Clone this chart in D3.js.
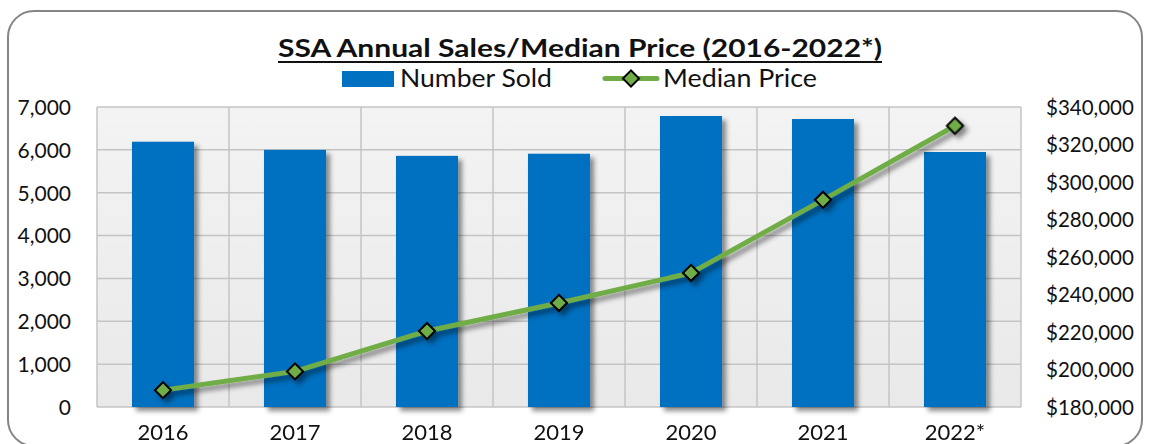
<!DOCTYPE html>
<html>
<head>
<meta charset="utf-8">
<script src="https://cdn.jsdelivr.net/npm/d3@7"></script>
<style>
  body { margin: 0; background: #fff; }
  text { font-family: Lato, "Open Sans", sans-serif; fill: #111; }
</style>
</head>
<body>
<script>
// chart data
var years = ["2016", "2017", "2018", "2019", "2020", "2021", "2022*"];
var numberSold = [6190, 6000, 5860, 5910, 6790, 6720, 5950];
var medianPrice = [189000, 199000, 220500, 235500, 251500, 290500, 330000];
var leftTicks = [0, 1000, 2000, 3000, 4000, 5000, 6000, 7000];
var rightTicks = [180000, 200000, 220000, 240000, 260000, 280000, 300000, 320000, 340000];

var width = 1150;
var height = 444;
var plot = { left: 97, right: 1021, top: 107, bottom: 407 };

var svg = d3.select("body")
  .append("svg")
  .attr("width", width)
  .attr("height", height);

var defs = svg.append("defs");
var shadow = defs.append("filter")
  .attr("id", "shadow")
  .attr("x", "-20%").attr("y", "-20%")
  .attr("width", "150%").attr("height", "150%");
shadow.append("feDropShadow")
  .attr("dx", 4).attr("dy", 4)
  .attr("stdDeviation", 2.5)
  .attr("flood-color", "#000")
  .attr("flood-opacity", 0.45);

var bg = defs.append("linearGradient")
  .attr("id", "bg")
  .attr("x1", 0).attr("y1", 0).attr("x2", 0).attr("y2", 1);
bg.append("stop").attr("offset", "0%").attr("stop-color", "#f3f3f3");
bg.append("stop").attr("offset", "100%").attr("stop-color", "#e9e9e9");

// outer frame
svg.append("rect")
  .attr("x", 8).attr("y", 11)
  .attr("width", 1134).attr("height", 435)
  .attr("rx", 26)
  .style("fill", "#fff")
  .style("stroke", "#858585")
  .style("stroke-width", 2);

// scales
var x = d3.scaleBand()
  .domain(years)
  .range([plot.left, plot.right]);

var yLeft = d3.scaleLinear()
  .domain([0, 7000])
  .range([plot.bottom, plot.top]);

var yRight = d3.scaleLinear()
  .domain([180000, 340000])
  .range([plot.bottom, plot.top]);

// plot background
svg.append("rect")
  .attr("x", plot.left).attr("y", plot.top)
  .attr("width", plot.right - plot.left)
  .attr("height", plot.bottom - plot.top)
  .style("fill", "url(#bg)");

// gridlines
svg.append("g")
  .selectAll("line")
  .data(leftTicks)
  .enter()
  .append("line")
  .attr("x1", plot.left).attr("x2", plot.right)
  .attr("y1", function(d) { return yLeft(d); })
  .attr("y2", function(d) { return yLeft(d); })
  .style("stroke", "#c4c4c4")
  .style("stroke-width", 1.5);

var bounds = years.map(function(d) { return x(d); }).concat([plot.right]);
svg.append("g")
  .selectAll("line")
  .data(bounds)
  .enter()
  .append("line")
  .attr("x1", function(d) { return d; })
  .attr("x2", function(d) { return d; })
  .attr("y1", plot.top).attr("y2", plot.bottom)
  .style("stroke", "#c4c4c4")
  .style("stroke-width", 1.5);

// bars
var barW = x.bandwidth() * 0.47;
svg.append("g")
  .attr("filter", "url(#shadow)")
  .selectAll("rect")
  .data(numberSold)
  .enter()
  .append("rect")
  .attr("x", function(d, i) { return x(years[i]) + (x.bandwidth() - barW) / 2; })
  .attr("y", function(d) { return yLeft(d); })
  .attr("width", barW)
  .attr("height", function(d) { return plot.bottom - yLeft(d); })
  .style("fill", "#0070c0");

// median price line
var line = d3.line()
  .x(function(d, i) { return x(years[i]) + x.bandwidth() / 2; })
  .y(function(d) { return yRight(d); });

var lineG = svg.append("g").attr("filter", "url(#shadow)");
lineG.append("path")
  .datum(medianPrice)
  .attr("d", line)
  .style("fill", "none")
  .style("stroke", "#70ad47")
  .style("stroke-width", 5)
  .style("stroke-linejoin", "round");

var diamond = d3.symbol().type(d3.symbolSquare).size(130);
lineG.selectAll(".marker")
  .data(medianPrice)
  .enter()
  .append("path")
  .attr("class", "marker")
  .attr("d", diamond)
  .attr("transform", function(d, i) {
    return "translate(" + (x(years[i]) + x.bandwidth() / 2) + "," + yRight(d) + ") rotate(45)";
  })
  .style("fill", "#70ad47")
  .style("stroke", "#000")
  .style("stroke-width", 2);

// axes
var leftAxis = svg.append("g")
  .attr("transform", "translate(" + (plot.left - 23) + ",0)")
  .call(d3.axisLeft(yLeft).tickValues(leftTicks).tickSize(0).tickFormat(d3.format(",")));
leftAxis.select(".domain").remove();
leftAxis.selectAll("text")
  .attr("dy", "0.35em")
  .style("font-family", "Lato, sans-serif")
  .style("font-size", "21px")
  .style("fill", "#111");

var rightAxis = svg.append("g")
  .attr("transform", "translate(" + (plot.right + 22) + ",0)")
  .call(d3.axisRight(yRight).tickValues(rightTicks).tickSize(0).tickFormat(function(d) { return "$" + d3.format(",")(d); }));
rightAxis.select(".domain").remove();
rightAxis.selectAll("text")
  .attr("dy", "0.35em")
  .style("font-family", "Lato, sans-serif")
  .style("font-size", "20.5px")
  .style("fill", "#111");

var bottomAxis = svg.append("g")
  .attr("transform", "translate(0," + plot.bottom + ")")
  .call(d3.axisBottom(x).tickSize(0));
bottomAxis.select(".domain").remove();
bottomAxis.selectAll("text")
  .attr("y", 33)
  .attr("dy", 0)
  .style("font-family", "Lato, sans-serif")
  .style("font-size", "22px")
  .style("fill", "#111");

// title
svg.append("text")
  .attr("x", 580)
  .attr("y", 57)
  .attr("text-anchor", "middle")
  .attr("textLength", 604)
  .attr("lengthAdjust", "spacingAndGlyphs")
  .style("font-size", "25px")
  .style("font-weight", "bold")
  .text("SSA Annual Sales/Median Price (2016-2022*)");
svg.append("line")
  .attr("x1", 278).attr("x2", 882)
  .attr("y1", 62).attr("y2", 62)
  .style("stroke", "#111")
  .style("stroke-width", 2);

// legend
svg.append("rect")
  .attr("x", 342).attr("y", 71)
  .attr("width", 52).attr("height", 16)
  .style("fill", "#0070c0");
svg.append("text")
  .attr("x", 400).attr("y", 87)
  .attr("textLength", 152)
  .attr("lengthAdjust", "spacingAndGlyphs")
  .style("font-size", "25px")
  .text("Number Sold");

svg.append("line")
  .attr("x1", 605).attr("x2", 657)
  .attr("y1", 78.5).attr("y2", 78.5)
  .style("stroke", "#70ad47")
  .style("stroke-width", 5)
  .style("stroke-linecap", "round");
svg.append("path")
  .attr("d", diamond)
  .attr("transform", "translate(631,78.5) rotate(45)")
  .style("fill", "#70ad47")
  .style("stroke", "#000")
  .style("stroke-width", 2);
svg.append("text")
  .attr("x", 663).attr("y", 87)
  .attr("textLength", 154)
  .attr("lengthAdjust", "spacingAndGlyphs")
  .style("font-size", "25px")
  .text("Median Price");
</script>
</body>
</html>
